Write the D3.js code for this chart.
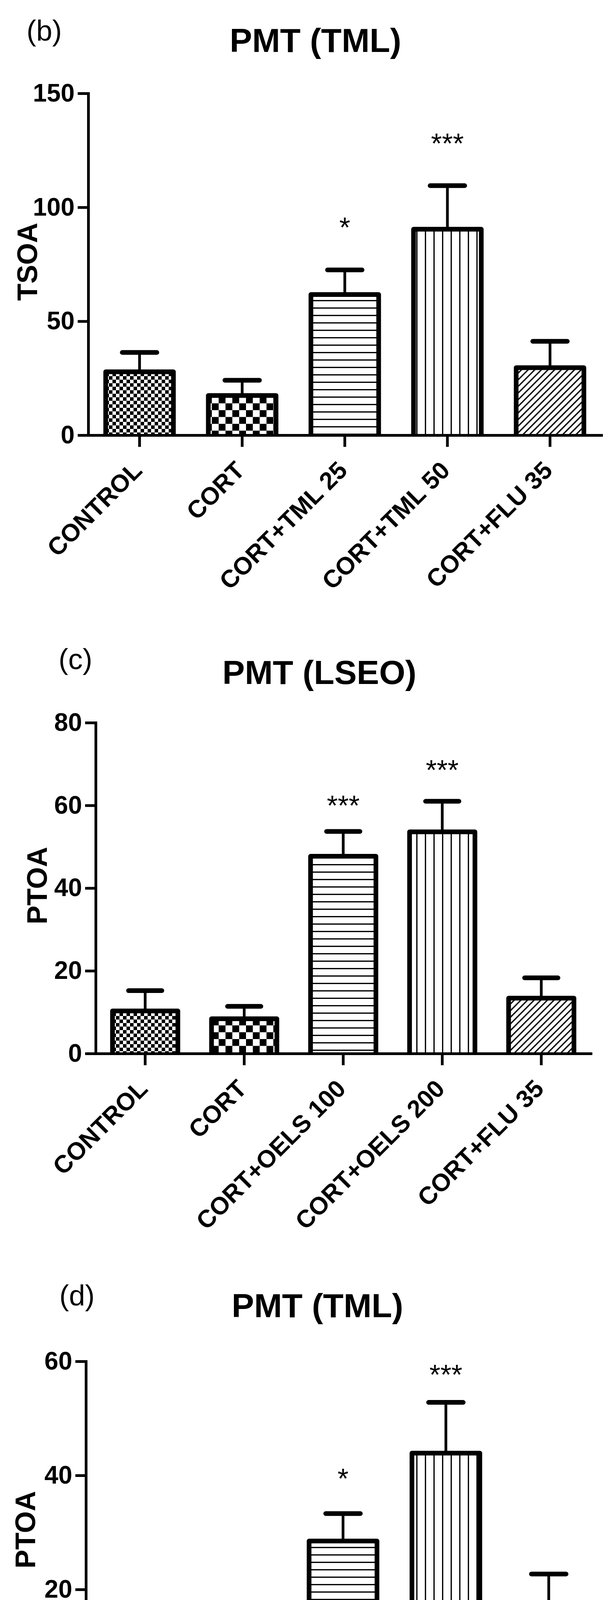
<!DOCTYPE html>
<html>
<head>
<meta charset="utf-8">
<script src="https://cdn.jsdelivr.net/npm/d3@7/dist/d3.min.js"></script>
<style>
  body { margin: 0; background: #fff; }
  svg { display: block; }
  text { font-family: "Liberation Sans", Arial, Helvetica, sans-serif; fill: #000; }
</style>
</head>
<body>
<div id="chart"></div>
<script>
// ---- data ----
var groupsTML  = ["CONTROL", "CORT", "CORT+TML 25", "CORT+TML 50", "CORT+FLU 35"];
var groupsLSEO = ["CONTROL", "CORT", "CORT+OELS 100", "CORT+OELS 200", "CORT+FLU 35"];

// (b) PMT (TML), TSOA
var meanB = [27.8, 17.4, 61.7, 90.4, 29.6];
var errB  = [8.5, 6.7, 10.8, 19.1, 11.6];
var sigB  = ["", "", "*", "***", ""];
var sigAtB = [0, 0, 94, 131, 0];
var ticksB = [0, 50, 100, 150];

// (c) PMT (LSEO), PTOA
var meanC = [10.3, 8.4, 47.7, 53.6, 13.4];
var errC  = [4.9, 3.0, 6.0, 7.4, 4.9];
var sigC  = ["", "", "***", "***", ""];
var sigAtC = [0, 0, 61.6, 70.2, 0];
var ticksC = [0, 20, 40, 60, 80];

// (d) PMT (TML), PTOA
var meanD = [10.4, 8.5, 28.5, 43.9, 15.9];
var errD  = [4.7, 2.9, 4.8, 8.9, 6.8];
var sigD  = ["", "", "*", "***", ""];
var sigAtD = [0, 0, 40.6, 58.8, 0];
var ticksD = [0, 20, 40, 60];

// fill pattern per bar position
var fills = ["checkFine", "checkCoarse", "hLines", "vLines", "diag"];

var W = 1575, H = 4797;

var svg = d3.select("#chart").append("svg")
    .attr("width", W)
    .attr("height", H);

// ---- hatch patterns ----
var defs = svg.append("defs");

var p = defs.append("pattern").attr("id", "checkFine")
    .attr("patternUnits", "userSpaceOnUse").attr("width", 18).attr("height", 18);
p.append("rect").attr("width", 18).attr("height", 18).attr("fill", "#fff");
p.append("rect").attr("width", 9).attr("height", 9).attr("fill", "#000");
p.append("rect").attr("x", 9).attr("y", 9).attr("width", 9).attr("height", 9).attr("fill", "#000");

p = defs.append("pattern").attr("id", "checkCoarse")
    .attr("patternUnits", "userSpaceOnUse").attr("width", 35).attr("height", 35);
p.append("rect").attr("width", 35).attr("height", 35).attr("fill", "#fff");
p.append("rect").attr("width", 17.5).attr("height", 17.5).attr("fill", "#000");
p.append("rect").attr("x", 17.5).attr("y", 17.5).attr("width", 17.5).attr("height", 17.5).attr("fill", "#000");

p = defs.append("pattern").attr("id", "hLines")
    .attr("patternUnits", "userSpaceOnUse").attr("width", 19).attr("height", 19);
p.append("rect").attr("width", 19).attr("height", 19).attr("fill", "#fff");
p.append("rect").attr("y", 8).attr("width", 19).attr("height", 3.2).attr("fill", "#000");

p = defs.append("pattern").attr("id", "vLines")
    .attr("patternUnits", "userSpaceOnUse").attr("width", 22).attr("height", 22);
p.append("rect").attr("width", 22).attr("height", 22).attr("fill", "#fff");
p.append("rect").attr("x", 10).attr("width", 3.2).attr("height", 22).attr("fill", "#000");

p = defs.append("pattern").attr("id", "diag")
    .attr("patternUnits", "userSpaceOnUse").attr("width", 12).attr("height", 12)
    .attr("patternTransform", "rotate(45)");
p.append("rect").attr("width", 12).attr("height", 12).attr("fill", "#fff");
p.append("rect").attr("x", 4).attr("width", 3.4).attr("height", 12).attr("fill", "#000");

// ---- one panel ----
function drawPanel(cfg) {
  var g = svg.append("g");

  var x = d3.scaleBand()
      .domain(cfg.groups)
      .range([cfg.x0, cfg.x1])
      .paddingInner(0.34)
      .paddingOuter(0.17);

  var y = d3.scaleLinear()
      .domain([0, d3.max(cfg.ticks)])
      .range([cfg.yBase, cfg.yTop]);

  var rows = cfg.groups.map(function (name, i) {
    return { name: name, mean: cfg.mean[i], err: cfg.err[i], sig: cfg.sig[i], sigAt: cfg.sigAt[i], fill: fills[i] };
  });

  // bars: pattern fill then three-sided outline
  var bars = g.selectAll(".bar").data(rows).enter().append("g").attr("class", "bar");

  bars.append("rect")
      .attr("x", function (d) { return x(d.name); })
      .attr("y", function (d) { return y(d.mean); })
      .attr("width", x.bandwidth())
      .attr("height", function (d) { return y(0) - y(d.mean); })
      .attr("fill", function (d) { return "url(#" + d.fill + ")"; });

  bars.append("path")
      .attr("d", function (d) {
        var l = x(d.name), r = l + x.bandwidth();
        return "M" + l + "," + y(0) + "V" + y(d.mean) + "H" + r + "V" + y(0);
      })
      .attr("fill", "none")
      .attr("stroke", "#000")
      .attr("stroke-width", 12)
      .attr("stroke-linejoin", "round");

  // error bars (upper only)
  var capHalf = x.bandwidth() * 0.255;
  bars.append("line")
      .attr("x1", function (d) { return x(d.name) + x.bandwidth() / 2; })
      .attr("x2", function (d) { return x(d.name) + x.bandwidth() / 2; })
      .attr("y1", function (d) { return y(d.mean); })
      .attr("y2", function (d) { return y(d.mean + d.err); })
      .attr("stroke", "#000")
      .attr("stroke-width", 7);

  bars.append("line")
      .attr("x1", function (d) { return x(d.name) + x.bandwidth() / 2 - capHalf; })
      .attr("x2", function (d) { return x(d.name) + x.bandwidth() / 2 + capHalf; })
      .attr("y1", function (d) { return y(d.mean + d.err); })
      .attr("y2", function (d) { return y(d.mean + d.err); })
      .attr("stroke", "#000")
      .attr("stroke-width", 12)
      .attr("stroke-linecap", "round");

  // significance stars
  g.selectAll(".sig").data(rows.filter(function (d) { return d.sig; })).enter()
    .append("text")
      .attr("class", "sig")
      .attr("x", function (d) { return x(d.name) + x.bandwidth() / 2; })
      .attr("y", function (d) { return y(d.sigAt); })
      .attr("dy", "0.58em")
      .attr("text-anchor", "middle")
      .style("font-size", "72px")
      .text(function (d) { return d.sig; });

  // axes
  var yAxis = g.append("g")
      .attr("transform", "translate(" + cfg.x0 + ",0)")
      .call(d3.axisLeft(y).tickValues(cfg.ticks).tickSize(27).tickSizeOuter(0).tickPadding(8));

  var xAxis = g.append("g")
      .attr("transform", "translate(0," + cfg.yBase + ")")
      .call(d3.axisBottom(x).tickSize(30).tickSizeOuter(0));

  [yAxis, xAxis].forEach(function (a) {
    a.select(".domain").attr("stroke", "#000").attr("stroke-width", 7).attr("stroke-linecap", "square");
    a.selectAll(".tick line").attr("stroke", "#000").attr("stroke-width", 7);
  });

  yAxis.selectAll("text")
      .attr("fill", "#000")
      .style("font-size", "64px")
      .style("font-weight", "bold");

  xAxis.selectAll("text")
      .attr("fill", "#000")
      .attr("x", 0).attr("y", 0).attr("dy", 0)
      .attr("transform", "translate(10,94) rotate(-45)")
      .style("text-anchor", "end")
      .style("font-size", "63px")
      .style("font-weight", "bold");

  // titles
  g.append("text")
      .attr("x", cfg.titleX).attr("y", cfg.titleY)
      .attr("text-anchor", "middle")
      .style("font-size", "86px")
      .style("font-weight", "bold")
      .text(cfg.title);

  g.append("text")
      .attr("x", cfg.labelX).attr("y", cfg.labelY)
      .style("font-size", "74px")
      .text(cfg.label);

  g.append("text")
      .attr("transform", "translate(" + cfg.yTitleX + "," + cfg.yTitleY + ") rotate(-90)")
      .attr("text-anchor", "middle")
      .style("font-size", "72px")
      .style("font-weight", "bold")
      .text(cfg.yTitle);
}

drawPanel({
  groups: groupsTML, mean: meanB, err: errB, sig: sigB, sigAt: sigAtB, ticks: ticksB,
  title: "PMT (TML)", label: "(b)", yTitle: "TSOA",
  x0: 226, x1: 1540, yBase: 1114, yTop: 239,
  titleX: 808, titleY: 133, labelX: 68, labelY: 104, yTitleX: 95, yTitleY: 670
});

drawPanel({
  groups: groupsLSEO, mean: meanC, err: errC, sig: sigC, sigAt: sigAtC, ticks: ticksC,
  title: "PMT (LSEO)", label: "(c)", yTitle: "PTOA",
  x0: 245, x1: 1513, yBase: 2697, yTop: 1850,
  titleX: 818, titleY: 1751, labelX: 150, labelY: 1713, yTitleX: 120, yTitleY: 2267
});

drawPanel({
  groups: groupsTML, mean: meanD, err: errD, sig: sigD, sigAt: sigAtD, ticks: ticksD,
  title: "PMT (TML)", label: "(d)", yTitle: "PTOA",
  x0: 220, x1: 1537, yBase: 4361, yTop: 3485,
  titleX: 813, titleY: 3372, labelX: 152, labelY: 3342, yTitleX: 90, yTitleY: 3916
});
</script>
</body>
</html>
